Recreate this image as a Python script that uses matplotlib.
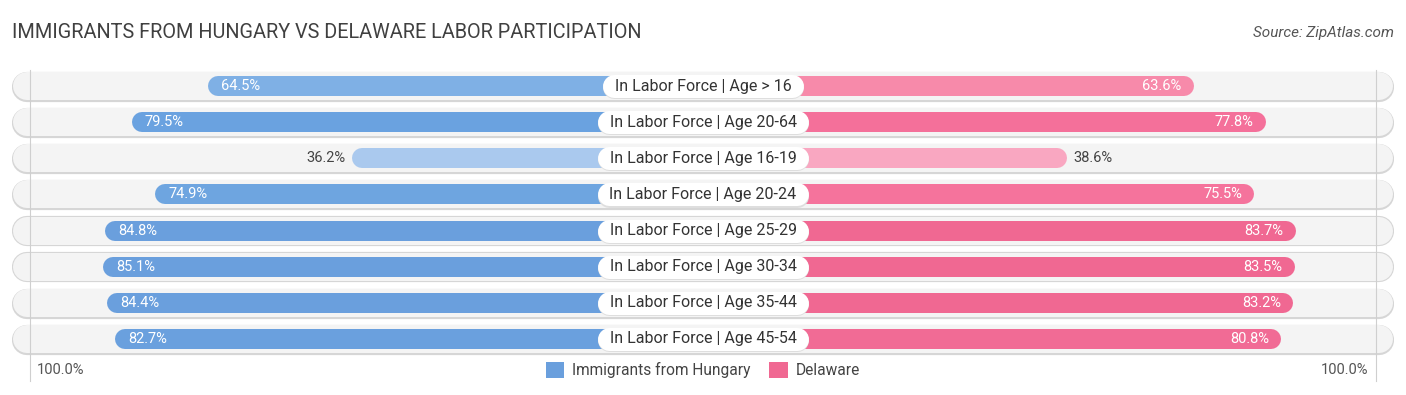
import matplotlib
matplotlib.use("Agg")
import matplotlib.pyplot as plt
from matplotlib.patches import Patch

plt.rcParams['font.family'] = ['Roboto', 'DejaVu Sans']

categories = ["In Labor Force | Age > 16", "In Labor Force | Age 20-64",
              "In Labor Force | Age 16-19", "In Labor Force | Age 20-24",
              "In Labor Force | Age 25-29", "In Labor Force | Age 30-34",
              "In Labor Force | Age 35-44", "In Labor Force | Age 45-54"]
hungary = [64.5, 79.5, 36.2, 74.9, 84.8, 85.1, 84.4, 82.7]
delaware = [63.6, 77.8, 38.6, 75.5, 83.7, 83.5, 83.2, 80.8]
blue_colors = ["#7fb0e5", "#6aa2e0", "#aac9ee", "#6ea5e0", "#6a9fdd", "#6a9fdd", "#6a9fdd", "#6aa0de"]
pink_colors = ["#f78aaa", "#f4709a", "#f9a7c1", "#f5739c", "#f06892", "#f06892", "#f06892", "#f16b95"]
series_names = ["Immigrants from Hungary", "Delaware"]
title = "IMMIGRANTS FROM HUNGARY VS DELAWARE LABOR PARTICIPATION"
source = "Source: ZipAtlas.com"

W, H, DPI = 1406, 395, 100
fig = plt.figure(figsize=(W / DPI, H / DPI), dpi=DPI)
ax = fig.add_axes([0, 0, 1, 1])
XL = 138.4
ax.set_xlim(-XL, XL)
ax.set_ylim(8.55, -2.38)
ax.axis('off')

px_per_x = W / (2 * XL)
px_per_y = H / (8.55 + 2.38)
GAP = 33.0
BAR_PX = 20
PILL_PX = 28
LABEL_PX = 23
bar_lw = BAR_PX * 72 / DPI
pill_lw = PILL_PX * 72 / DPI
label_lw = LABEL_PX * 72 / DPI
r_bar = (BAR_PX / 2) / px_per_x
r_label = (LABEL_PX / 2) / px_per_x
pill_end = 133.0

renderer = fig.canvas.get_renderer()

for i, (cat, hv, dv) in enumerate(zip(categories, hungary, delaware)):
    y = i
    # background pill (border + fill)
    ax.plot([-pill_end, pill_end], [y + 0.02, y + 0.02], lw=pill_lw + 1.6, color="#d6d6d6",
            solid_capstyle='round', zorder=1)
    ax.plot([-pill_end, pill_end], [y, y], lw=pill_lw, color="#f4f4f4",
            solid_capstyle='round', zorder=2)
    # bars
    xl = -(GAP + hv)
    xr = GAP + dv
    ax.plot([xl + r_bar, 0], [y, y], lw=bar_lw, color=blue_colors[i],
            solid_capstyle='round', zorder=4)
    ax.plot([0, xr - r_bar], [y, y], lw=bar_lw, color=pink_colors[i],
            solid_capstyle='round', zorder=4)
    # value labels
    if hv >= 50:
        ax.text(xl + 2.6, y, f"{hv:.1f}%", ha='left', va='center', fontsize=10.5,
                color='white', zorder=6)
    else:
        ax.text(xl - 1.2, y, f"{hv:.1f}%", ha='right', va='center', fontsize=10.5,
                color='#444444', zorder=6)
    if dv >= 50:
        ax.text(xr - 2.4, y, f"{dv:.1f}%", ha='right', va='center', fontsize=10.5,
                color='white', zorder=6)
    else:
        ax.text(xr + 1.4, y, f"{dv:.1f}%", ha='left', va='center', fontsize=10.5,
                color='#444444', zorder=6)
    # category label with white pill sized to the text
    t = ax.text(0, y, cat, ha='center', va='center', fontsize=11.5, color='#333333', zorder=8)
    tw = t.get_window_extent(renderer=renderer).width
    half = (tw / 2 + 12) / px_per_x - r_label
    ax.plot([-half, half], [y + 1.2 / px_per_y, y + 1.2 / px_per_y], lw=label_lw,
            color="#dedede", solid_capstyle='round', zorder=6.5)
    ax.plot([-half, half], [y, y], lw=label_lw, color="white",
            solid_capstyle='round', zorder=7)

# 100% gridlines
for xv in (-(GAP + 100) + 0.5, GAP + 100 - 0.5):
    ax.plot([xv, xv], [-0.45, 8.15], lw=0.8, color="#cfcfcf", zorder=3)

ax.text(-126.4, 7.86, "100.0%", ha='center', va='center', fontsize=10.5, color='#555555')
ax.text(126.4, 7.86, "100.0%", ha='center', va='center', fontsize=10.5, color='#555555')

handles = [Patch(facecolor="#6a9fdd", edgecolor='none', label=series_names[0]),
           Patch(facecolor="#f06892", edgecolor='none', label=series_names[1])]
fig.legend(handles=handles, loc='center', bbox_to_anchor=(0.5, 1 - 370 / H), ncol=2,
           frameon=False, fontsize=11.2, handlelength=1.2, handleheight=1.2,
           handletextpad=0.5, columnspacing=1.2, labelcolor='#444444')

fig.text(12 / W, 1 - 33 / H, title, ha='left', va='center', fontsize=14.3, color='#404040')
fig.text(1394 / W, 1 - 33 / H, source, ha='right', va='center', fontsize=11,
         color='#555555', style='italic')

fig.savefig("out.png", dpi=DPI, facecolor='white')
